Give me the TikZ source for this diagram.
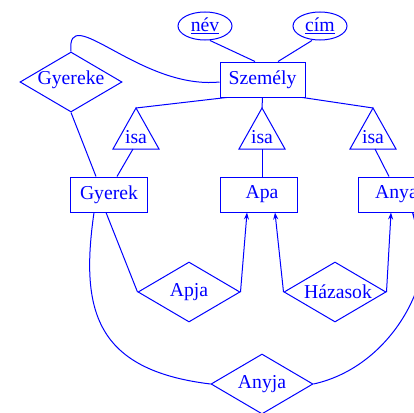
\documentclass[tikz,border=0pt]{standalone}
\usepackage{fontspec}
\setmainfont{Liberation Serif}
\usetikzlibrary{shapes.geometric,arrows.meta}
\begin{document}
\begin{tikzpicture}[x=1pt,y=-1pt,color=blue,line width=1pt,
  font=\fontsize{19.7pt}{23pt}\selectfont,
  ent/.style={draw,rectangle,inner sep=0pt,minimum width=77pt,minimum height=35pt},
  rel/.style={draw,diamond,inner sep=0pt,minimum width=102pt,minimum height=60pt},
  attr/.style={draw,ellipse,inner sep=0pt,minimum width=54pt,minimum height=28pt},
  isatext/.style={anchor=base,inner sep=0pt},
  arr/.style={-{Stealth[length=7pt,width=5pt]}}]
\useasboundingbox (0,0) rectangle (414,412);
\clip (0,0) rectangle (414,412);
% attributes
\node[attr] (nev) at (205,26) {\underline{név}};
\node[attr] (cim) at (320,26) {\underline{cím}};
% entities
\node[ent,minimum width=85pt] (szemely) at (262.5,79.5) {Személy};
\node[ent] (gyerek) at (109,194.5) {Gyerek};
\node[ent,label={[xshift=3.5pt]center:Apa}] (apa) at (258.5,194.5) {};
\node[ent] (anya) at (396.5,194.5) {Anya};
% relationships
\node[rel,label={[yshift=2pt]center:Gyereke}] (gyereke) at (71,82) {};
\node[rel,label={center:Apja}] (apja) at (189,292) {};
\node[rel,label={[xshift=3pt]center:Házasok}] (hazasok) at (335,292) {};
\node[rel,label={center:Anyja}] (anyja) at (262,384) {};
% isa triangles
\coordinate (isaT1) at (136,108); \coordinate (isaB1) at (136,149);
\coordinate (isaT2) at (262,108); \coordinate (isaB2) at (262,149);
\coordinate (isaT3) at (373,108); \coordinate (isaB3) at (373,149);
\draw (isaT1) -- ++(-23,41) -- ++(46,0) -- cycle;
\draw (isaT2) -- ++(-23,41) -- ++(46,0) -- cycle;
\draw (isaT3) -- ++(-23,41) -- ++(46,0) -- cycle;
\node[isatext] (isa1) at (136,143) {isa};
\node[isatext] (isa2) at (262,143) {isa};
\node[isatext] (isa3) at (373,143) {isa};
% connectors
\draw ([xshift=5pt]nev.south) -- ([xshift=-7.5pt]szemely.north);
\draw ([xshift=-8pt]cim.south) -- ([xshift=15.5pt]szemely.north);
\draw ([xshift=7pt]szemely.south west) -- (isaT1);
\draw (szemely.south) -- (isaT2);
\draw ([xshift=-3pt]szemely.south east) -- (isaT3);
\draw ([xshift=-3pt]isaB1) -- ([xshift=8pt]gyerek.north);
\draw (isaB2) -- ([xshift=3.5pt]apa.north);
\draw ([xshift=2pt]isaB3) -- ([xshift=-7.5pt]anya.north);
\draw (gyereke.north) .. controls (66,0) and (140,90) .. ([yshift=-2.5pt]szemely.west);
\draw (gyereke.south) -- ([xshift=-13pt]gyerek.north);
\draw ([xshift=-3pt]gyerek.south) -- (apja.west);
\draw[arr] (apja.east) -- ([xshift=-11.5pt]apa.south);
\draw[arr] (hazasok.west) -- ([xshift=16.5pt]apa.south);
\draw[arr] (hazasok.east) -- ([xshift=-5.5pt]anya.south);
\draw ([xshift=-15pt]gyerek.south) .. controls (80,310) and (95,370) .. (anyja.west);
\draw[arr] (anyja.east) .. controls (400,365) and (445,260) .. ([xshift=15.5pt]anya.south);
\end{tikzpicture}
\end{document}
